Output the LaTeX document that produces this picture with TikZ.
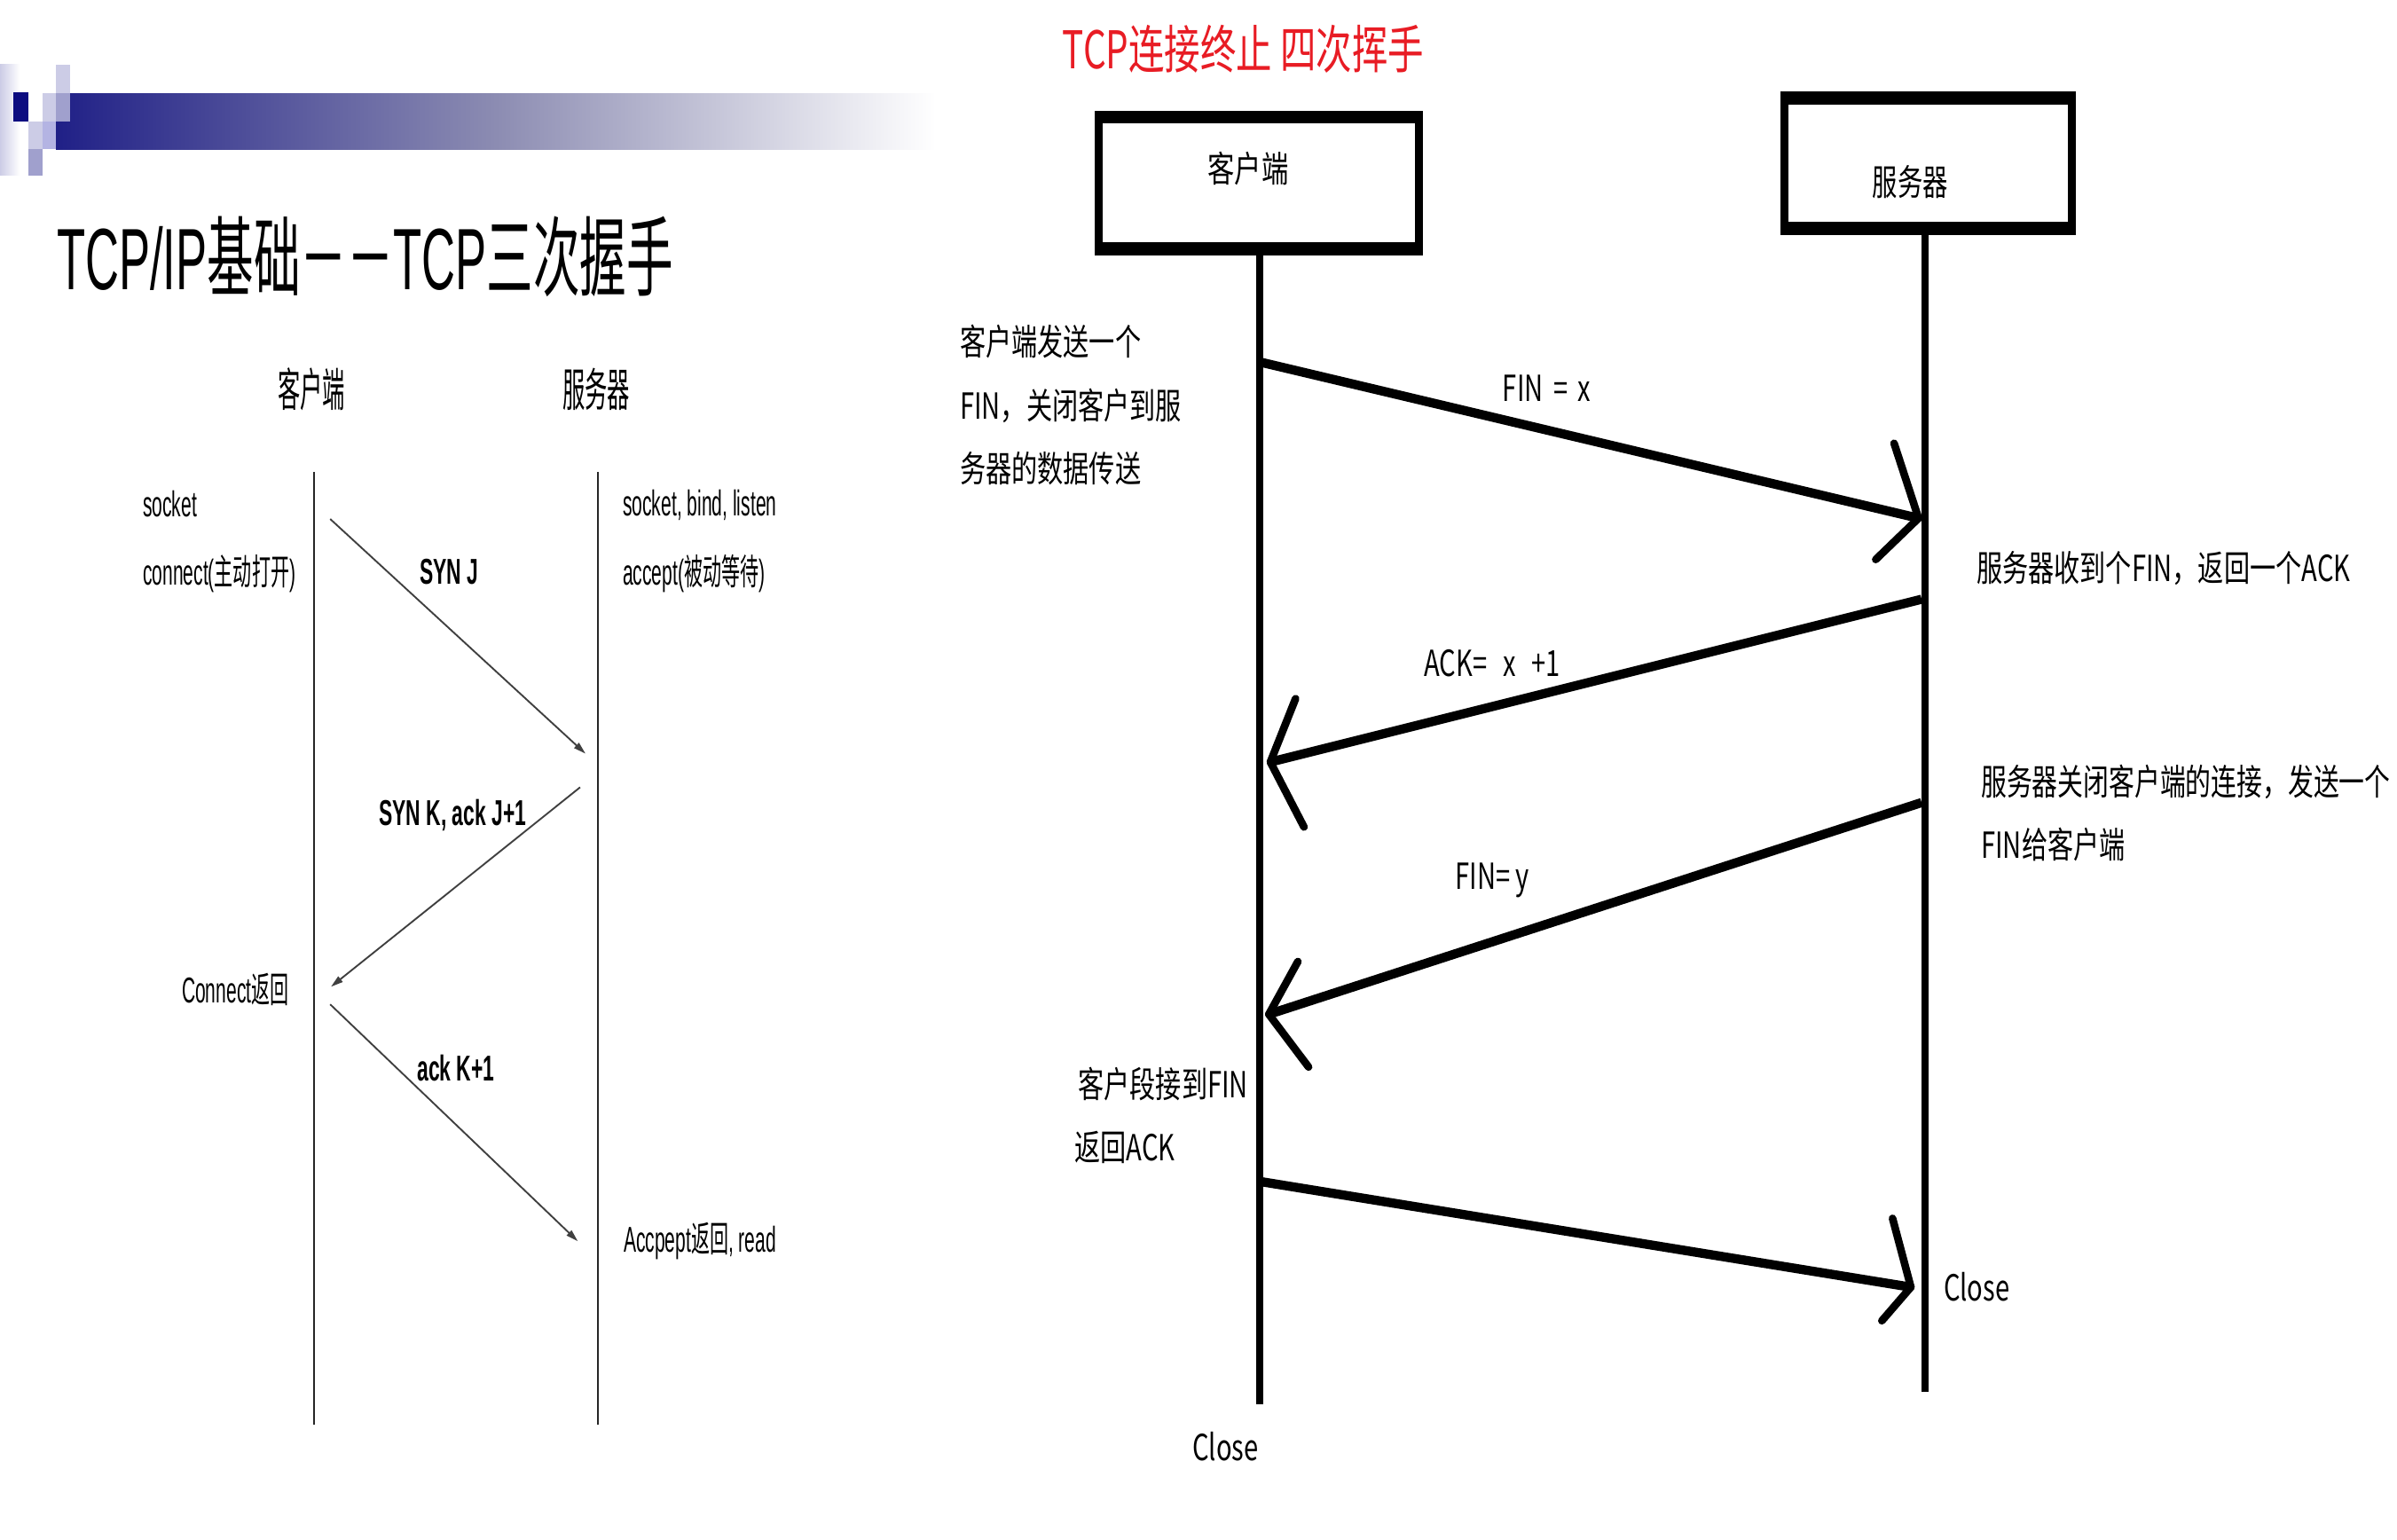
\documentclass[tikz,border=0pt]{standalone}
\usepackage{fontspec}
\setmainfont{Noto Sans CJK SC}
\newfontfamily\lat{Liberation Sans}
\usetikzlibrary{arrows.meta}
\definecolor{navyd}{RGB}{12,12,128}
\definecolor{barnavy}{RGB}{32,32,135}
\definecolor{barmid}{RGB}{140,140,178}
\definecolor{lavl}{RGB}{204,204,230}
\definecolor{lavm}{RGB}{160,160,205}
\definecolor{redt}{RGB}{232,28,36}
\newcommand{\sxl}[1]{\scalebox{0.52}[1]{#1}}
\newcommand{\sxb}[1]{\scalebox{0.565}[1]{#1}}
\newcommand{\sxr}[1]{\scalebox{0.72}[1]{#1}}
\begin{document}
\begin{tikzpicture}[x=1pt,y=-1pt,
  lt/.style={inner sep=0pt, outer sep=0pt, font=\fontsize{23.5}{28}\selectfont},
  rt/.style={inner sep=0pt, outer sep=0pt, font=\fontsize{23.5}{28}\selectfont},
  thinlife/.style={draw=black!85, line width=1pt},
  thinarrow/.style={draw=black!75, line width=1.1pt, -{Triangle[length=8pt,width=4.5pt]}},
  life/.style={line width=4.6pt},
  fat/.style={line width=6pt},
  arm/.style={line width=5pt, line cap=round},
  boxfill/.style={fill=black, inner sep=0pt, outer sep=0pt}
]
\useasboundingbox (0,0) rectangle (1568,1007);
\fill[white] (0,0) rectangle (1568,1007);

% ---------- decoration top-left ----------
\shade[left color=lavl, right color=white] (0,42) rectangle (13,114.5);
\shade[left color=barnavy, right color=white, middle color=barmid] (36.7,61) rectangle (612,97.5);
\fill[navyd] (8.7,60.5) rectangle (18.4,79.6);
\fill[lavl] (36.7,42.6) rectangle (45.8,61);
\fill[lavl] (28,61) rectangle (36.7,79.6);
\fill[lavm] (36.7,61) rectangle (45.8,79.6);
\fill[lavl] (18.4,79.6) rectangle (28,97.5);
\fill[lavm!110!black!95] (28,79.6) rectangle (36.7,97.5);
\fill[lavm] (18.4,97.5) rectangle (27.7,115);

% ---------- left: three-way handshake ----------
\node[inner sep=0pt, anchor=west, font=\fontsize{57}{64}\selectfont] (title) at (37,168)
  {\scalebox{0.535}[1]{{\lat TCP/IP}基础－－{\lat TCP}三次握手}};
\node[lt, font=\fontsize{30}{36}\selectfont] (hc) at (203.8,254.5) {\scalebox{0.49}[1]{客户端}};
\node[lt, font=\fontsize{30}{36}\selectfont] (hs) at (390,254.5) {\scalebox{0.49}[1]{服务器}};

\coordinate (lct) at (205.5,308.6);
\coordinate (lcb) at (205.5,932);
\coordinate (lst) at (391,308.6);
\coordinate (lsb) at (391,932);
\draw[thinlife] (lct) -- (lcb);
\draw[thinlife] (lst) -- (lsb);

\node[lt, anchor=west] (sock) at (93.5,329.5) {\sxl{\lat socket}};
\node[lt, anchor=west] (conn) at (93.5,375) {\sxl{{\lat connect(}主动打开{\lat )}}};
\node[lt, anchor=west] (sbl) at (407.5,330.5) {\sxl{\lat socket, bind, listen}};
\node[lt, anchor=west] (acc) at (407.5,375) {\sxl{{\lat accept(}被动等待{\lat )}}};
\node[lt, anchor=west] (synj) at (274.5,374) {\sxb{\lat\bfseries SYN J}};
\node[lt, anchor=west] (synk) at (248,533.5) {\sxb{\lat\bfseries SYN K, ack J+1}};
\node[lt, anchor=west] (cret) at (119,647.5) {\sxl{{\lat Connect}返回}};
\node[lt, anchor=west] (ackk) at (273,698.5) {\sxb{\lat\bfseries ack K+1}};
\node[lt, anchor=west] (aret) at (408,812) {\sxl{{\lat Accpept}返回{\lat , read}}};

\coordinate (a1s) at (216,339.5);
\coordinate (a1e) at (383,493);
\coordinate (a2s) at (379.5,515);
\coordinate (a2e) at (216.5,645.5);
\coordinate (a3s) at (216,657);
\coordinate (a3e) at (378,812);
\draw[thinarrow] (a1s) -- (a1e);
\draw[thinarrow] (a2s) -- (a2e);
\draw[thinarrow] (a3s) -- (a3e);

% ---------- right: four-way close ----------
\node[inner sep=0pt, anchor=west, text=redt, font=\fontsize{34}{40}\selectfont] (rtitle) at (695,32)
  {\scalebox{0.69}[1]{TCP连接终止 四次挥手}};

\node[boxfill, minimum width=215pt, minimum height=94.5pt] (cbox) at (823.5,119.75) {};
\fill[white] ([xshift=5.2pt,yshift=-8.3pt]cbox.north west) rectangle ([xshift=-5.2pt,yshift=8.3pt]cbox.south east);
\node[rt] (cl) at (816.5,110.5) {\scalebox{0.75}[1]{客户端}};

\node[boxfill, minimum width=193.5pt, minimum height=93.5pt] (sbox) at (1261.25,106.75) {};
\fill[white] ([xshift=5.2pt,yshift=-8.3pt]sbox.north west) rectangle ([xshift=-5.2pt,yshift=8.3pt]sbox.south east);
\node[rt] (sl) at (1249.5,119) {\scalebox{0.70}[1]{服务器}};

\coordinate (rct) at (824,167);
\coordinate (rcb) at (824,918.5);
\coordinate (rst) at (1259,153.5);
\coordinate (rsb) at (1259,910.5);
\draw[life] (rct) -- (rcb);
\draw[life] (rst) -- (rsb);

% arrow 1: FIN = x
\coordinate (f1s) at (825,237);
\coordinate (f1t) at (1255,339);
\draw[fat] (f1s) -- (f1t);
\draw[arm] (f1t) -- +(-16,-49);
\draw[arm] (f1t) -- +(-28,27);
% arrow 2: ACK
\coordinate (f2s) at (1257,392);
\coordinate (f2t) at (831,498.5);
\draw[fat] (f2s) -- (f2t);
\draw[arm] (f2t) -- +(16.5,-41.5);
\draw[arm] (f2t) -- +(22,42.5);
% arrow 3: FIN = y
\coordinate (f3s) at (1257,525);
\coordinate (f3t) at (830,663.5);
\draw[fat] (f3s) -- (f3t);
\draw[arm] (f3t) -- +(19,-34.5);
\draw[arm] (f3t) -- +(26,34.5);
% arrow 4: ACK to server
\coordinate (f4s) at (825,773);
\coordinate (f4t) at (1250,842);
\draw[fat] (f4s) -- (f4t);
\draw[arm] (f4t) -- +(-12,-45);
\draw[arm] (f4t) -- +(-19,22);

\node[rt, anchor=west] (t1) at (628,223.5) {\sxr{客户端发送一个}};
\node[rt, anchor=west] (t2) at (628,265.5) {\sxr{FIN，关闭客户到服}};
\node[rt, anchor=west] (t3) at (628,306.5) {\sxr{务器的数据传送}};
\node[rt, anchor=west] (lfx) at (983,254) {\sxr{FIN\ \,=\ \,x}};
\node[rt, anchor=west] (t4) at (1293,372) {\sxr{服务器收到个FIN，返回一个ACK}};
\node[rt, anchor=west] (lack) at (931.5,434) {\sxr{ACK=\ \ \,x\ \ \,+1}};
\node[rt, anchor=west] (t5) at (1296,511.5) {\scalebox{0.712}[1]{服务器关闭客户端的连接，发送一个}};
\node[rt, anchor=west] (t6) at (1296,552.5) {\sxr{FIN给客户端}};
\node[rt, anchor=west] (lfy) at (952,576) {\sxr{FIN= y}};
\node[rt, anchor=east] (t7) at (816.5,709) {\sxr{客户段接到FIN}};
\node[rt, anchor=west] (t8) at (703,750.5) {\sxr{返回ACK}};
\node[rt, anchor=west] (cls) at (1271.5,842) {\sxr{Close}};
\node[rt, anchor=west] (clc) at (780,946) {\sxr{Close}};
\end{tikzpicture}
\end{document}
